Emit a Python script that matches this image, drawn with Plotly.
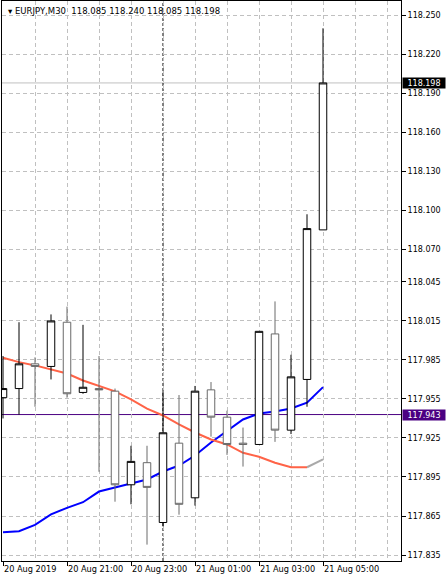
import plotly.graph_objects as go

# EURJPY M30 bars (server time)
bar_times = [
    "2019-08-20 19:00", "2019-08-20 19:30", "2019-08-20 20:00", "2019-08-20 20:30",
    "2019-08-20 21:00", "2019-08-20 21:30", "2019-08-20 22:00", "2019-08-20 22:30",
    "2019-08-20 23:00", "2019-08-20 23:30", "2019-08-21 00:00", "2019-08-21 00:30",
    "2019-08-21 01:00", "2019-08-21 01:30", "2019-08-21 02:00", "2019-08-21 02:30",
    "2019-08-21 03:00", "2019-08-21 03:30", "2019-08-21 04:00", "2019-08-21 04:30",
    "2019-08-21 05:00",
]
opens = [117.956, 117.963, 117.982, 117.980, 118.014, 117.960, 117.963, 117.961, 117.889, 117.906,
         117.860, 117.921, 117.879, 117.962, 117.941, 117.921, 117.920, 118.005, 117.931, 117.970,
         118.085]
highs = [117.988, 118.014, 117.987, 118.020, 118.026, 118.012, 117.988, 117.963, 117.919, 117.919,
         117.961, 117.958, 117.965, 117.968, 117.946, 117.933, 118.007, 118.030, 117.989, 118.097,
         118.240]
lows = [117.940, 117.943, 117.949, 117.970, 117.956, 117.959, 117.899, 117.876, 117.874, 117.843,
        117.857, 117.866, 117.873, 117.926, 117.912, 117.903, 117.920, 117.922, 117.928, 117.949,
        118.085]
closes = [117.963, 117.982, 117.980, 118.015, 117.959, 117.964, 117.962, 117.889, 117.907, 117.887,
          117.929, 117.874, 117.961, 117.941, 117.920, 117.920, 118.007, 117.931, 117.972, 118.086,
          118.198]

# moving averages
ma_red = [117.9867, 117.9833, 117.9808, 117.9777, 117.9746, 117.9692, 117.9648, 117.9608, 117.9546,
          117.9475, 117.9423, 117.9354, 117.9292, 117.9238, 117.9200, 117.9136, 117.9105, 117.9059,
          117.9025, 117.9025]
ma_grey = [117.9025, 117.9085]
ma_blue = [117.8525, 117.8533, 117.8582, 117.8662, 117.8713, 117.8756, 117.8838, 117.8867, 117.8900,
           117.8931, 117.8992, 117.9038, 117.9115, 117.9215, 117.9302, 117.9392, 117.9438, 117.9454,
           117.9477, 117.9521, 117.9641]

bid_price = 118.198
level_price = 117.943
day_separator = "2019-08-21 00:00"

price_ticks = [118.250, 118.220, 118.190, 118.160, 118.130, 118.100, 118.070, 118.045,
               118.015, 117.985, 117.955, 117.925, 117.895, 117.865, 117.835]
time_ticks = ["2019-08-20 19:00", "2019-08-20 21:00", "2019-08-20 23:00",
              "2019-08-21 01:00", "2019-08-21 03:00", "2019-08-21 05:00"]
time_labels = ["20 Aug 2019", "20 Aug 21:00", "20 Aug 23:00",
               "21 Aug 01:00", "21 Aug 03:00", "21 Aug 05:00"]
hour_grid = ["2019-08-20 20:00", "2019-08-20 22:00", "2019-08-21 00:00", "2019-08-21 02:00",
             "2019-08-21 04:00", "2019-08-21 06:00", "2019-08-21 07:00"]

x_range = ["2019-08-20 18:58:07.5", "2019-08-21 07:26:15"]
y_range = [117.8304, 118.261]

FONT = "DejaVu Sans"
GRID = "#c0c0c0"

fig = go.Figure()

# indicator lines sit under the candles (base subplot)
fig.add_trace(go.Scatter(x=bar_times, y=ma_blue, mode="lines",
                         line=dict(color="#0000ff", width=2), hoverinfo="skip"))
fig.add_trace(go.Scatter(x=bar_times[:len(ma_red)], y=ma_red, mode="lines",
                         line=dict(color="#ff6347", width=2), hoverinfo="skip"))
fig.add_trace(go.Scatter(x=bar_times[-2:], y=ma_grey, mode="lines",
                         line=dict(color="#a9a9a9", width=2), hoverinfo="skip"))

# candles on an overlaying axis so they draw above the lines
fig.add_trace(go.Candlestick(
    x=bar_times, open=opens, high=highs, low=lows, close=closes,
    xaxis="x", yaxis="y2",
    increasing=dict(line=dict(color="#000000", width=1), fillcolor="#ffffff"),
    decreasing=dict(line=dict(color="#6a6a6a", width=1), fillcolor="#ffffff"),
    whiskerwidth=0,
))

# bid line, level line and day separator
fig.add_shape(type="line", xref="paper", x0=0, x1=1, yref="y", y0=bid_price, y1=bid_price,
              line=dict(color=GRID, width=1), layer="between")
fig.add_shape(type="line", xref="paper", x0=0, x1=1, yref="y", y0=level_price, y1=level_price,
              line=dict(color="#4b0082", width=1), layer="between")
fig.add_shape(type="line", xref="x", x0=day_separator, x1=day_separator, yref="paper", y0=0, y1=1,
              line=dict(color="#000000", width=1, dash="3px,2px"), layer="between")

# price labels on the scale
for price, bg in [(bid_price, "#000000"), (level_price, "#4b0082")]:
    fig.add_annotation(xref="paper", x=1, xanchor="left", xshift=1,
                       yref="y", y=price, yanchor="middle",
                       text=f"{price:.3f}", showarrow=False,
                       font=dict(family=FONT, size=8, color="#ffffff"),
                       bgcolor=bg, borderpad=0, width=42, height=10, align="center")

# symbol header
header = "EURJPY,M30\u00a0\u00a0{:.3f} {:.3f} {:.3f} {:.3f}".format(
    opens[-1], highs[-1], lows[-1], closes[-1])
fig.add_annotation(xref="paper", x=0, xanchor="left", xshift=4,
                   yref="paper", y=1, yanchor="top", yshift=-3,
                   text="\u25be " + header, showarrow=False,
                   font=dict(family=FONT, size=8.5, color="#000000"))

fig.update_layout(
    width=447, height=583,
    margin=dict(l=2, r=46, t=1, b=22, autoexpand=False),
    paper_bgcolor="#ffffff", plot_bgcolor="#ffffff",
    showlegend=False,
    boxgap=0.33,
    font=dict(family=FONT, size=8, color="#000000"),
    xaxis=dict(
        type="date", range=x_range,
        rangeslider=dict(visible=False),
        tickmode="array", tickvals=time_ticks, ticktext=time_labels,
        tickangle=0, automargin=False,
        ticklabelposition="outside right",
        ticks="outside", ticklen=4, tickcolor="#000000", tickwidth=1,
        tickfont=dict(family=FONT, size=8.2, color="#000000"),
        showgrid=True, gridcolor=GRID, griddash="4px,3px", gridwidth=1,
        minor=dict(tickmode="array", tickvals=hour_grid, showgrid=True,
                   gridcolor=GRID, griddash="4px,3px", gridwidth=1, ticks=""),
        showline=True, linecolor="#000000", linewidth=1, mirror=True,
        zeroline=False, fixedrange=True,
    ),
    yaxis=dict(
        side="right", range=y_range, automargin=False,
        tickmode="array", tickvals=price_ticks,
        ticktext=[f"{p:.3f}" for p in price_ticks],
        ticks="outside", ticklen=4, tickcolor="#000000", tickwidth=1,
        tickfont=dict(family=FONT, size=8, color="#000000"),
        showgrid=True, gridcolor=GRID, griddash="4px,3px", gridwidth=1,
        showline=True, linecolor="#000000", linewidth=1, mirror=True,
        zeroline=False, fixedrange=True,
    ),
    yaxis2=dict(
        overlaying="y", side="right", range=y_range, automargin=False,
        showticklabels=False, showgrid=False, showline=False,
        ticks="", zeroline=False, fixedrange=True,
    ),
)

fig.write_html("out.html", config={"displayModeBar": False},
               post_script="document.body.style.margin='0';document.body.style.overflow='hidden';")
